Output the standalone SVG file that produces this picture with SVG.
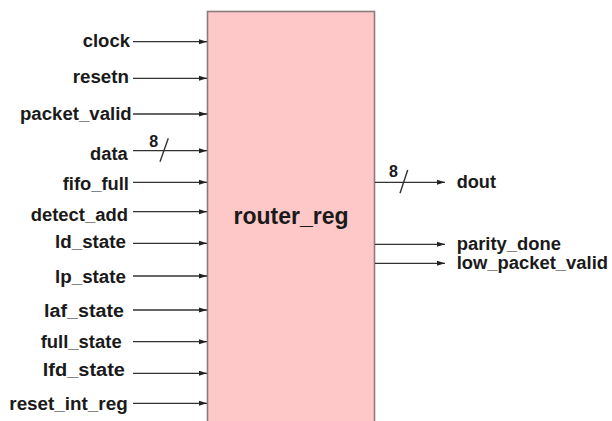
<svg xmlns="http://www.w3.org/2000/svg" width="612" height="421" viewBox="0 0 612 421">
<defs>
<marker id="arr" markerWidth="8" markerHeight="6" refX="8" refY="3" orient="auto" markerUnits="userSpaceOnUse">
<path d="M0,0.5 L8,3 L0,5.5 Z" fill="#222"/>
</marker>
<style>
.lbl{font-family:"Liberation Sans",Arial,sans-serif;font-weight:bold;font-size:18px;fill:#1a1a1a}
.w{stroke:#333;stroke-width:1.3;fill:none;marker-end:url(#arr)}
.bus{stroke:#333;stroke-width:1.4}
.num{font-family:"Liberation Sans",Arial,sans-serif;font-weight:bold;font-size:16px;fill:#1a1a1a}
</style>
</defs>
<rect width="612" height="421" fill="#ffffff"/>
<g id="router_reg">
<rect x="207.5" y="11.5" width="167" height="420" fill="#ffc8c8" stroke="#8a7c7c" stroke-width="1.6"/>
<text x="233.5" y="223.5" class="lbl" style="font-size:23px" textLength="115" lengthAdjust="spacingAndGlyphs">router_reg</text>
</g>
<g id="connectors">
<line class="w" x1="133" y1="41.7" x2="207" y2="41.7"/>
<line class="w" x1="133" y1="78.3" x2="207" y2="78.3"/>
<line class="w" x1="133" y1="114" x2="207" y2="114"/>
<line class="w" x1="133" y1="150.7" x2="207" y2="150.7"/>
<line class="w" x1="133" y1="182.3" x2="207" y2="182.3"/>
<line class="w" x1="133" y1="211.7" x2="207" y2="211.7"/>
<line class="w" x1="133" y1="243.3" x2="207" y2="243.3"/>
<line class="w" x1="133" y1="276" x2="207" y2="276"/>
<line class="w" x1="133" y1="310" x2="207" y2="310"/>
<line class="w" x1="133" y1="341.7" x2="207" y2="341.7"/>
<line class="w" x1="133" y1="373.3" x2="207" y2="373.3"/>
<line class="w" x1="133" y1="403.3" x2="207" y2="403.3"/>
<line class="bus" x1="160" y1="161.7" x2="168.3" y2="138.3"/>
<line class="w" x1="375" y1="182.3" x2="445" y2="182.3"/>
<line class="bus" x1="400" y1="193.3" x2="407.7" y2="170"/>
<line class="w" x1="375" y1="244.3" x2="445" y2="244.3"/>
<line class="w" x1="375" y1="263.3" x2="445" y2="263.3"/>
</g>
<g id="in_clock"><text class="lbl" x="82.7" y="46.7" textLength="47.3" lengthAdjust="spacingAndGlyphs">clock</text></g>
<g id="in_resetn"><text class="lbl" x="72.7" y="83.3" textLength="56.3" lengthAdjust="spacingAndGlyphs">resetn</text></g>
<g id="in_packet_valid"><text class="lbl" x="20" y="120" textLength="111.7" lengthAdjust="spacingAndGlyphs">packet_valid</text></g>
<g id="in_data"><text class="lbl" x="90" y="159.5" textLength="37.7" lengthAdjust="spacingAndGlyphs">data</text><text class="num" x="149.3" y="147">8</text></g>
<g id="in_fifo_full"><text class="lbl" x="62.7" y="190" textLength="66.3" lengthAdjust="spacingAndGlyphs">fifo_full</text></g>
<g id="in_detect_add"><text class="lbl" x="30.7" y="220.7" textLength="97.3" lengthAdjust="spacingAndGlyphs">detect_add</text></g>
<g id="in_ld_state"><text class="lbl" x="55" y="248.3" textLength="71" lengthAdjust="spacingAndGlyphs">ld_state</text></g>
<g id="in_lp_state"><text class="lbl" x="55" y="283.3" textLength="71" lengthAdjust="spacingAndGlyphs">lp_state</text></g>
<g id="in_laf_state"><text class="lbl" x="44" y="317.3" textLength="80" lengthAdjust="spacingAndGlyphs">laf_state</text></g>
<g id="in_full_state"><text class="lbl" x="40.7" y="348.3" textLength="81" lengthAdjust="spacingAndGlyphs">full_state</text></g>
<g id="in_lfd_state"><text class="lbl" x="42.7" y="376" textLength="82.3" lengthAdjust="spacingAndGlyphs">lfd_state</text></g>
<g id="in_reset_int_reg"><text class="lbl" x="9.3" y="410" textLength="118.4" lengthAdjust="spacingAndGlyphs">reset_int_reg</text></g>
<g id="out_dout"><text class="num" x="389" y="177">8</text><text class="lbl" x="456.7" y="188.3" textLength="39.3" lengthAdjust="spacingAndGlyphs">dout</text></g>
<g id="out_parity_done"><text class="lbl" x="456.7" y="250" textLength="104.3" lengthAdjust="spacingAndGlyphs">parity_done</text></g>
<g id="out_low_packet_valid"><text class="lbl" x="456.7" y="269.3" textLength="151.3" lengthAdjust="spacingAndGlyphs">low_packet_valid</text></g>
</svg>
